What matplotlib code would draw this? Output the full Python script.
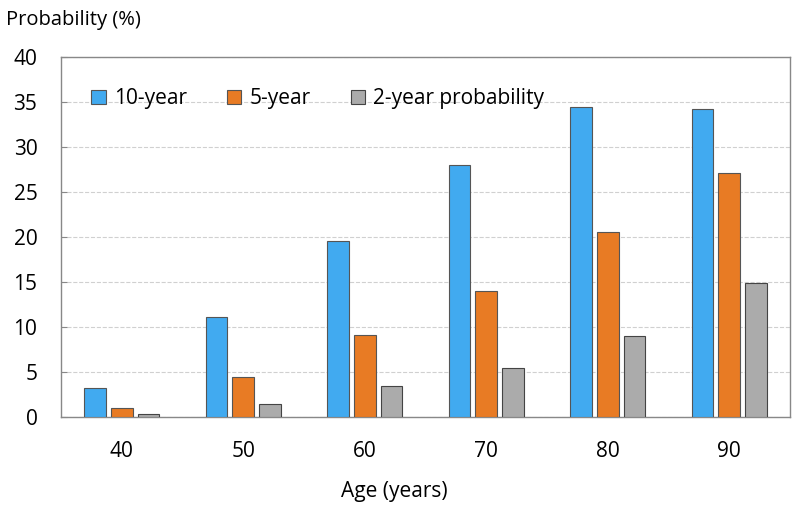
import matplotlib.pyplot as plt
import numpy as np

plt.rcParams['font.family'] = ['Open Sans', 'DejaVu Sans']

ages = ['40', '50', '60', '70', '80', '90']
ten_year = [3.2, 11.1, 19.6, 28.0, 34.4, 34.2]
five_year = [1.0, 4.4, 9.1, 14.0, 20.6, 27.1]
two_year = [0.3, 1.5, 3.4, 5.5, 9.0, 14.9]

fig = plt.figure(figsize=(8, 5.14), dpi=100)
ax = fig.add_axes([61 / 800, 1 - 417 / 514, 729 / 800, 360 / 514])

x = np.arange(len(ages))
w = 0.18
ax.bar(x - 0.22, ten_year, w, color='#41aaf0', edgecolor='#555555', linewidth=0.8, label='10-year', zorder=3)
ax.bar(x, five_year, w, color='#e87b24', edgecolor='#555555', linewidth=0.8, label='5-year', zorder=3)
ax.bar(x + 0.22, two_year, w, color='#ababab', edgecolor='#444444', linewidth=0.8, label='2-year probability', zorder=3)

ax.set_xlim(-0.5, 5.5)
ax.set_ylim(0, 40)
ax.set_yticks(range(0, 41, 5))
ax.set_xticks(x)
ax.set_xticklabels(ages)
ax.tick_params(axis='x', length=0, pad=17, labelsize=15)
ax.tick_params(axis='y', direction='in', length=4, color='#888888', pad=17, labelsize=15)
ax.grid(axis='y', linestyle='--', color='#d0d0d0', linewidth=0.8, zorder=0)
for s in ax.spines.values():
    s.set_color('#888888')
    s.set_linewidth(1)

fig.text(394 / 800, 1 - 492 / 514, 'Age (years)', fontsize=15, va='center', ha='center')
fig.text(6 / 800, 1 - 20 / 514, 'Probability (%)', fontsize=14.5, va='center', ha='left')

ax.legend(loc='upper left', ncol=3, frameon=False, fontsize=15, handlelength=0.7, handleheight=0.7,
          handletextpad=0.4, columnspacing=1.9, bbox_to_anchor=(0.016, 0.965))

fig.savefig('out.png', dpi=100)
